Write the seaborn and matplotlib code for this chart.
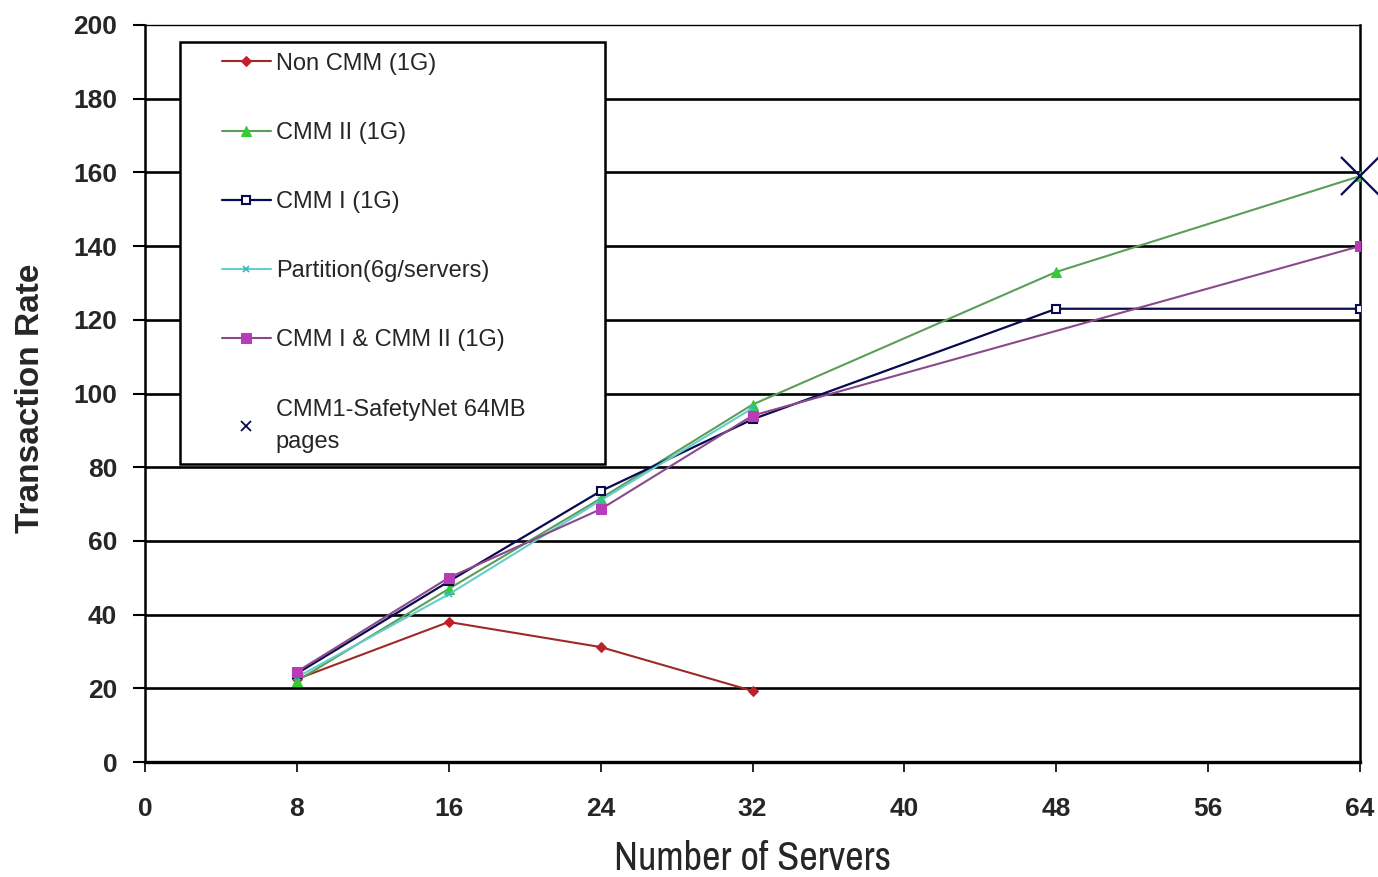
import matplotlib
matplotlib.use("Agg")
import matplotlib.pyplot as plt
from matplotlib.lines import Line2D
from matplotlib.legend_handler import HandlerLine2D
import seaborn as sns

# ---- data ----
x_non = [8, 16, 24, 32]
y_non = [22.5, 38, 31.2, 19.3]

x_cmm2 = [8, 16, 24, 32, 48, 64]
y_cmm2 = [22, 47, 71.5, 97, 133, 159]

x_cmm1 = [8, 16, 24, 32, 48, 64]
y_cmm1 = [24, 49, 73.5, 93, 123, 123]

x_part = [8, 16, 24, 32]
y_part = [23, 45.5, 71, 96]

x_both = [8, 16, 24, 32, 64]
y_both = [24.5, 50, 68.6, 94, 140]

x_safe = [64]
y_safe = [159]

labels = ["Non CMM (1G)", "CMM II (1G)", "CMM I (1G)", "Partition(6g/servers)",
          "CMM I & CMM II (1G)", "CMM1-SafetyNet 64MB\npages"]
x_ticks = [0, 8, 16, 24, 32, 40, 48, 56, 64]
y_ticks = [0, 20, 40, 60, 80, 100, 120, 140, 160, 180, 200]

sns.set_theme(style="white")
plt.rcParams['font.family'] = ['Liberation Sans', 'DejaVu Sans']

fig = plt.figure(figsize=(13.78, 8.77), dpi=100)
ax = fig.add_axes([0.1052, 0.1311, 0.8818, 0.8404])

for yv in y_ticks[1:-1]:
    ax.axhline(yv, color='black', lw=1.9, zorder=1)

sns.lineplot(x=x_non, y=y_non, ax=ax, color='#9C2A2A', marker='D', markersize=5,
             markeredgecolor='#C0202A', markerfacecolor='#C0202A', lw=1.5, label=labels[0], zorder=3)
sns.lineplot(x=x_cmm2, y=y_cmm2, ax=ax, color='#5A9E5A', marker='^', markersize=7,
             markeredgecolor='#33CC33', markerfacecolor='#33CC33', lw=1.5, label=labels[1], zorder=3)
sns.lineplot(x=x_cmm1, y=y_cmm1, ax=ax, color='#0A0A50', marker='s', markersize=6,
             markeredgecolor='#0A0A50', markerfacecolor='white', markeredgewidth=1.5, lw=1.6,
             label=labels[2], zorder=3)
sns.lineplot(x=x_part, y=y_part, ax=ax, color='#66CCCC', marker='x', markersize=5,
             markeredgecolor='#33BBBB', markeredgewidth=1.2, lw=1.5, label=labels[3], zorder=3)
sns.lineplot(x=x_both, y=y_both, ax=ax, color='#8A4A8A', marker='s', markersize=7,
             markeredgecolor='#B83CB8', markerfacecolor='#B83CB8', lw=1.5, label=labels[4], zorder=3)
sns.lineplot(x=x_safe, y=y_safe, ax=ax, color='#0A0A50', marker='x', markersize=28,
             markeredgecolor='#0A0A50', markeredgewidth=1.6, lw=0, label=labels[5], zorder=4,
             clip_on=False)

ax.set_xlim(0, 64)
ax.set_ylim(0, 200)
ax.set_xticks(x_ticks)
ax.set_yticks(y_ticks)
ax.set_xticklabels([str(v) for v in x_ticks], fontweight='bold', fontsize=19)
ax.set_yticklabels([str(v) for v in y_ticks], fontweight='bold', fontsize=19)
ax.tick_params(axis='y', direction='out', length=9, width=1.5, pad=11, color='black', left=True)
ax.tick_params(axis='x', direction='out', length=7, width=1.2, pad=18, color='black', bottom=True)

for side in ['left', 'right', 'top', 'bottom']:
    ax.spines[side].set_color('black')
ax.spines['left'].set_linewidth(1.8)
ax.spines['bottom'].set_linewidth(2.4)
ax.spines['right'].set_linewidth(1.8)
ax.spines['top'].set_linewidth(1.0)

ax.set_xlabel("Number of Servers", family=['Archivo Narrow', 'Liberation Sans'], fontsize=29)
ax.xaxis.set_label_coords(0.5, -0.106)
ax.set_ylabel("Transaction Rate", fontweight='bold', fontsize=24)
ax.yaxis.set_label_coords(-0.0815, 0.494)

leg = ax.legend(loc='upper left', bbox_to_anchor=(0.029, 0.977, 0.35, 0.0), mode='expand',
                fontsize=17, frameon=True, fancybox=False, edgecolor='black', framealpha=1,
                handlelength=3.4, handletextpad=0.2, labelspacing=2.0,
                borderpad=0.45, borderaxespad=0,
                handler_map={Line2D: HandlerLine2D(xpad=1.3)})
leg.get_frame().set_linewidth(1.8)
leg.legend_handles[5].set_markersize(7)
leg.legend_handles[5].set_markeredgewidth(1.3)
leg.get_texts()[5].set_linespacing(1.6)

fig.savefig("out.png", dpi=100)
